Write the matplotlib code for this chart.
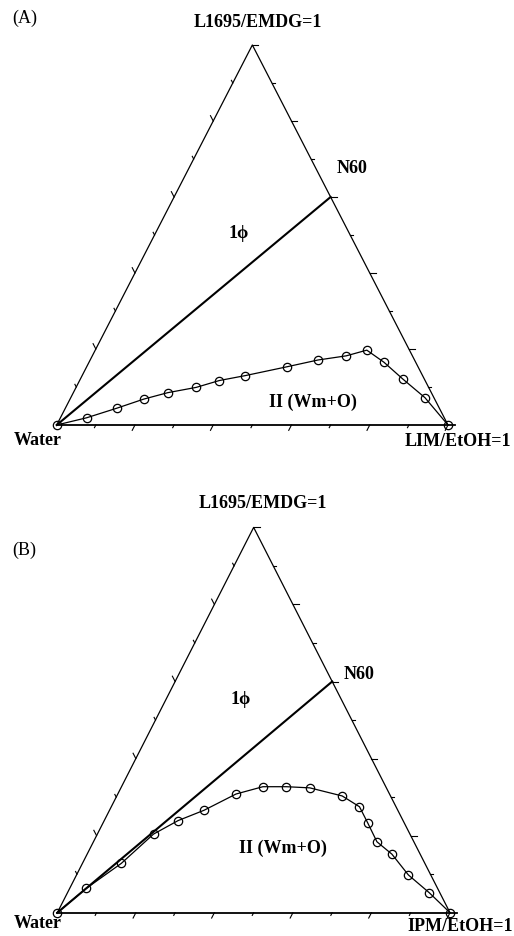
import numpy as np
import matplotlib
matplotlib.use("Agg")
import matplotlib.pyplot as plt

# ternary data: fraction of top component (L1695/EMDG) and right component (oil/EtOH)
a_top = [0, 0.019, 0.044, 0.068, 0.085, 0.099, 0.117, 0.130, 0.153, 0.171, 0.182, 0.197, 0.165, 0.121, 0.072, 0]
a_right = [0, 0.067, 0.131, 0.188, 0.241, 0.307, 0.357, 0.417, 0.511, 0.582, 0.649, 0.694, 0.754, 0.824, 0.905, 1.0]

b_top = [0, 0.063, 0.128, 0.204, 0.239, 0.266, 0.308, 0.327, 0.327, 0.324, 0.303, 0.275, 0.234, 0.184, 0.152, 0.098, 0.052, 0]
b_right = [0, 0.042, 0.099, 0.143, 0.188, 0.241, 0.301, 0.360, 0.420, 0.481, 0.574, 0.632, 0.673, 0.722, 0.776, 0.845, 0.921, 1.0]

# dilution line N60: surfactant/oil = 60/40
n60_top = [0, 0.6]
n60_right = [0, 0.4]

oil_labels = ["LIM/EtOH=1", "IPM/EtOH=1"]
panel_labels = ["(A)", "(B)"]

W, H = 514, 936
plt.rcParams['font.family'] = ['Liberation Serif', 'DejaVu Serif']
fig = plt.figure(figsize=(W / 100, H / 100), dpi=100)


def tern(top, right):
    top = np.asarray(top, float)
    right = np.asarray(right, float)
    return right + 0.5 * top, top


def draw_ticks(ax, pts, dpx, wpx, hpx):
    d = np.array(dpx, float)
    d = d / np.hypot(*d)
    for k, (x, y) in enumerate(pts, start=1):
        ln = 6.0 if k % 2 == 0 else 3.0
        ax.plot([x, x + d[0] * ln / wpx], [y, y + d[1] * ln / hpx],
                color='k', lw=0.8, clip_on=False)


def ternary_panel(rect_px, top, right, oil, plabel, pos):
    left, base, wpx, hpx = rect_px
    ax = fig.add_axes([left / W, (H - base) / H, wpx / W, hpx / H])
    ax.set_xlim(0, 1)
    ax.set_ylim(0, 1)
    ax.axis('off')

    # triangle frame
    ax.plot([0, 0.5, 1], [0, 1, 0], color='k', lw=0.9, clip_on=False)
    ax.plot([0, 1.018], [0, 0], color='k', lw=1.3, clip_on=False)

    ks = np.arange(1, 11) / 10
    draw_ticks(ax, list(zip(*tern(np.zeros(10), ks))), (-195, -380), wpx, hpx)
    draw_ticks(ax, list(zip(*tern(ks, 1 - ks))), (1, 0), wpx, hpx)
    draw_ticks(ax, list(zip(*tern(ks[:9], np.zeros(9)))), (-195, 380), wpx, hpx)

    x, y = tern(n60_top, n60_right)
    ax.plot(x, y, color='k', lw=1.5, clip_on=False)

    x, y = tern(top, right)
    ax.plot(x, y, color='k', lw=0.9, marker='o', ms=6, mfc='none', mew=0.9,
            clip_on=False)

    bold = dict(fontsize=13, fontweight='bold', ha='center', va='center')
    ax.text(*pos['title'], "L1695/EMDG=1", **bold)
    ax.text(*pos['n60'], "N60", **bold)
    ax.text(*pos['phi'], "1\u03d5", **bold)
    ax.text(*pos['two'], "II (Wm+O)", **bold)
    ax.text(*pos['water'], "Water", **bold)
    ax.text(*pos['oil'], oil, **bold)
    ax.text(*pos['panel'], plabel, fontsize=13, ha='left', va='center')
    return ax


pos_a = dict(title=(0.514, 1.058), n60=(0.756, 0.676), phi=(0.464, 0.504),
             two=(0.656, 0.060), water=(-0.049, -0.042), oil=(1.026, -0.043),
             panel=(-0.114, 1.071))
pos_b = dict(title=(0.5225, 1.061), n60=(0.769, 0.6195), phi=(0.467, 0.554),
             two=(0.5755, 0.167), water=(-0.051, -0.029), oil=(1.0255, -0.037),
             panel=(-0.1136, 0.941))

ternary_panel((56.7, 425, 391.3, 380), a_top, a_right, oil_labels[0], panel_labels[0], pos_a)
ternary_panel((57.3, 912.7, 392.7, 385.3), b_top, b_right, oil_labels[1], panel_labels[1], pos_b)

fig.savefig("out.png", dpi=100)
